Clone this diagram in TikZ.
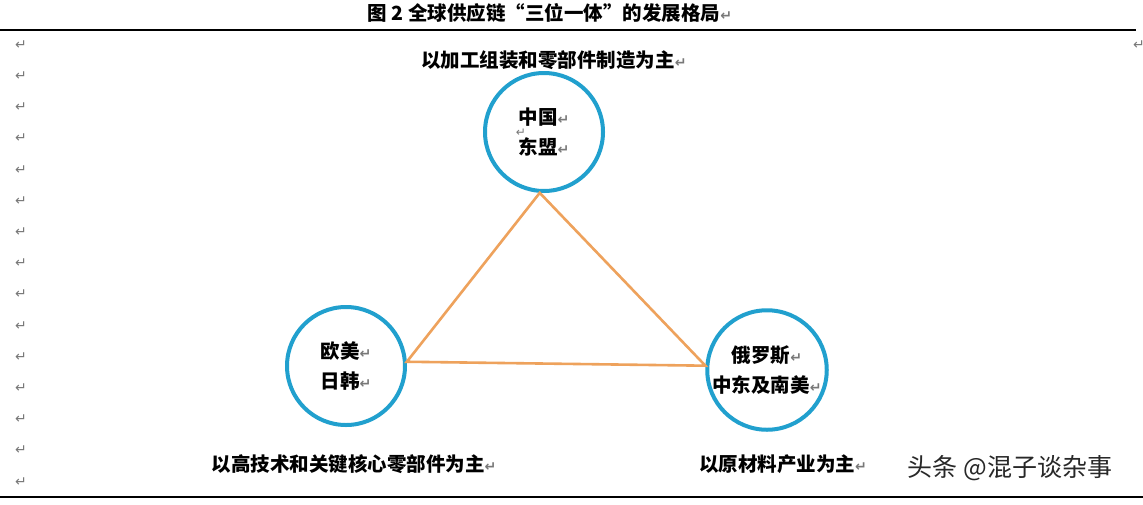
\documentclass[tikz,border=0pt]{standalone}
\usepackage{fontspec}
\setmainfont{Noto Sans CJK SC}
\newfontfamily\djv{DejaVu Sans}
\definecolor{ringblue}{RGB}{33,160,206}
\definecolor{linkorange}{RGB}{238,162,92}
\definecolor{retgray}{RGB}{120,120,120}
\definecolor{wmgray}{RGB}{40,40,40}
\newcommand\retmark{{\djv\fontsize{14}{14}\selectfont\color{retgray}↵}}
\begin{document}
\begin{tikzpicture}[x=1pt,y=-1pt,
  txt/.style={font=\fontsize{19.5}{30}\selectfont\bfseries, inner sep=0pt, align=center},
  hub/.style={circle, draw=ringblue, line width=4pt, minimum size=118pt, inner sep=0pt, align=center, font=\fontsize{19.5}{30}\selectfont\bfseries},
  link/.style={draw=linkorange, line width=2.6pt, line cap=round},
  rule/.style={draw=black, line width=1.4pt},
  ret/.style={font=\djv\fontsize{14}{14}\selectfont, text=retgray, inner sep=0pt}]
\useasboundingbox (0,0) rectangle (1143,504);
\fill[white] (0,0) rectangle (1143,504);
% title
\node[txt] (title) at (550,13) {图 2 全球供应链“三位一体”的发展格局\retmark};
\coordinate (r1a) at (0,30);
\coordinate (r1b) at (1136,30);
\draw[rule] (r1a) -- (r1b);
\coordinate (r2a) at (0,497);
\coordinate (r2b) at (1143,497);
\draw[rule] (r2a) -- (r2b);
% paragraph marks
\foreach \i in {0,...,14}{
  \node[ret] (l\i) at (21,{45+31.2*\i}) {↵};
}
\node[ret] (rtop) at (1139,45) {↵};
% labels
\node[txt] (lbtop) at (554,60) {以加工组装和零部件制造为主\retmark};
\node[txt] (lbleft) at (354,464) {以高技术和关键核心零部件为主\retmark};
\node[txt] (lbright) at (783,464) {以原材料产业为主\retmark};
% circles
\node[hub] (cn) at (544,132) {中国\retmark\\东盟\retmark};
\node[ret, font=\djv\fontsize{12}{12}\selectfont] (stray) at (521,132.5) {↵};
\node[hub] (eu) at (346,366) {欧美\retmark\\日韩\retmark};
\node[hub] (ru) at (767,370) {俄罗斯\retmark\\中东及南美\retmark};
% triangle
\draw[link] (cn.266) -- (eu.4) -- (ru.176) -- cycle;
% watermark
\node[font=\fontsize{25}{25}\selectfont, text=wmgray, inner sep=0pt] (wm) at (1010,468) {头条 @混子谈杂事};
\end{tikzpicture}
\end{document}
